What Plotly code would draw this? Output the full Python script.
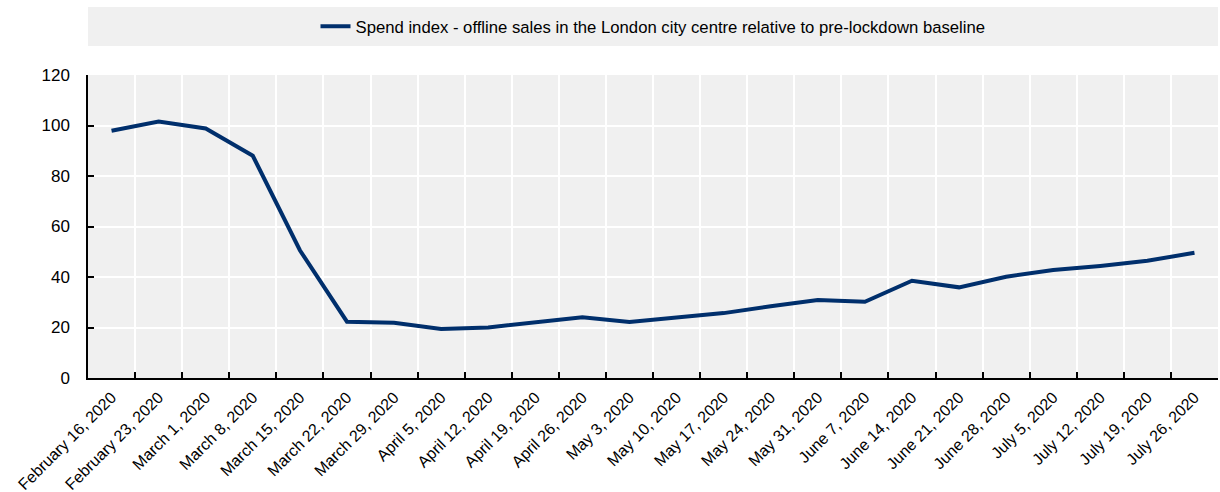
import plotly.graph_objects as go

# Weekly spend index, offline sales in central London (pre-lockdown baseline = 100)
weeks = [
    "February 16, 2020", "February 23, 2020", "March 1, 2020", "March 8, 2020",
    "March 15, 2020", "March 22, 2020", "March 29, 2020", "April 5, 2020",
    "April 12, 2020", "April 19, 2020", "April 26, 2020", "May 3, 2020",
    "May 10, 2020", "May 17, 2020", "May 24, 2020", "May 31, 2020",
    "June 7, 2020", "June 14, 2020", "June 21, 2020", "June 28, 2020",
    "July 5, 2020", "July 12, 2020", "July 19, 2020", "July 26, 2020",
]
spend_index = [
    97.9, 101.6, 98.8, 88.0,
    50.6, 22.3, 21.9, 19.4,
    20.0, 22.2, 24.1, 22.2,
    23.9, 25.7, 28.4, 30.9,
    30.2, 38.5, 35.9, 40.1,
    42.8, 44.4, 46.4, 49.6,
]
series_name = "Spend index - offline sales in the London city centre relative to pre-lockdown baseline"

FONT = "Liberation Sans Narrow, Arial Narrow, Liberation Sans, Arial, sans-serif"
NAVY = "#002F6C"
PANEL = "#F0F0F0"

fig = go.Figure()
fig.add_trace(go.Scatter(
    x=weeks, y=spend_index, mode="lines", name=series_name,
    line=dict(color=NAVY, width=4),
))

plot_top, plot_bottom = 75, 378
plot_h = plot_bottom - plot_top

# grey legend band spanning the plot width
fig.add_shape(
    type="rect", xref="paper", yref="paper",
    x0=0, x1=1,
    y0=1 + (plot_top - 46) / plot_h, y1=1 + (plot_top - 7) / plot_h,
    fillcolor=PANEL, line=dict(width=0), layer="below",
)

fig.update_layout(
    width=1220, height=492,
    margin=dict(l=88, r=2, t=plot_top, b=492 - plot_bottom, autoexpand=False),
    paper_bgcolor="white", plot_bgcolor=PANEL,
    font=dict(family=FONT, size=17, color="black"),
    showlegend=True,
    legend=dict(
        orientation="h", x=0.5, xanchor="center",
        y=1 + (plot_top - 26.5) / plot_h, yanchor="middle",
        bgcolor="rgba(0,0,0,0)", font=dict(size=16.7),
    ),
    xaxis=dict(
        type="category", range=[-0.5, len(weeks) - 0.5], automargin=False,
        tickson="boundaries", ticks="inside", ticklen=6, tickwidth=1.5, tickcolor="black",
        showgrid=True, gridcolor="white", gridwidth=1.5,
        showline=True, linecolor="black", linewidth=1.5,
        tickangle=-45, tickfont=dict(size=16), ticklabelstandoff=2,
    ),
    yaxis=dict(
        range=[0, 120], dtick=20, tick0=0, automargin=False,
        ticks="inside", ticklen=6, tickwidth=1.5, tickcolor="black",
        showgrid=True, gridcolor="white", gridwidth=1.5, zeroline=False,
        showline=True, linecolor="black", linewidth=1.5,
        tickfont=dict(size=17), ticklabelstandoff=13,
    ),
)

fig.write_html("out.html")
